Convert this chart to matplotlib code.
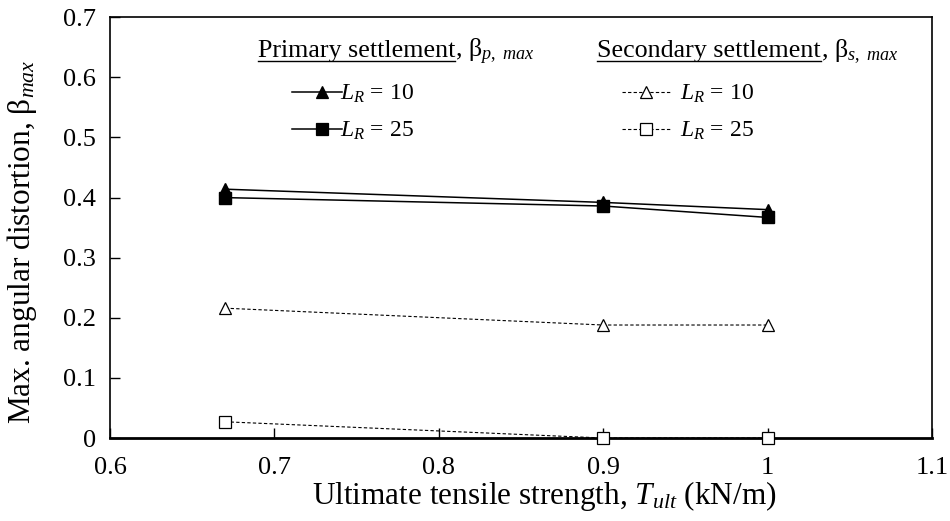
import matplotlib
matplotlib.use("Agg")
import matplotlib.pyplot as plt
from matplotlib.lines import Line2D
from matplotlib.ticker import FuncFormatter, MultipleLocator

plt.rcParams["font.family"] = ["Liberation Serif", "DejaVu Serif"]
plt.rcParams["mathtext.fontset"] = "custom"
plt.rcParams["mathtext.rm"] = "Liberation Serif"
plt.rcParams["mathtext.it"] = "Liberation Serif:italic"

# data
t_ult = [0.67, 0.9, 1.0]
primary_lr10 = [0.414, 0.392, 0.380]
primary_lr25 = [0.400, 0.386, 0.367]
secondary_lr10 = [0.216, 0.188, 0.188]
secondary_lr25 = [0.027, 0.0, 0.0]

fig = plt.figure(figsize=(9.5, 5.21), dpi=100)
ax = fig.add_axes([0.1158, 0.1593, 0.8652, 0.8075])

ax.plot(t_ult, primary_lr10, "-", color="black", lw=1.1, marker="^", ms=9,
        mfc="black", mec="black", clip_on=False)
ax.plot(t_ult, primary_lr25, "-", color="black", lw=1.1, marker="s", ms=8,
        mfc="black", mec="black", clip_on=False)
ax.plot(t_ult, secondary_lr10, color="black", lw=0.8, ls=(0, (3, 2)), marker="^",
        ms=9, mfc="white", mec="black", mew=0.9, clip_on=False)
ax.plot(t_ult, secondary_lr25, color="black", lw=0.8, ls=(0, (3, 2)), marker="s",
        ms=8, mfc="white", mec="black", mew=0.9, clip_on=False, zorder=5)

ax.set_xlim(0.6, 1.1)
ax.set_ylim(0, 0.7)
ax.xaxis.set_major_locator(MultipleLocator(0.1))
ax.yaxis.set_major_locator(MultipleLocator(0.1))
fmt = FuncFormatter(lambda v, p: f"{v:g}")
ax.xaxis.set_major_formatter(fmt)
ax.yaxis.set_major_formatter(fmt)
ax.tick_params(direction="in", length=7, width=1, labelsize=19, top=False, right=False)
ax.tick_params(axis="x", pad=14)
ax.tick_params(axis="y", pad=10)
for s in ax.spines.values():
    s.set_linewidth(1.2)
ax.spines["bottom"].set_linewidth(2)

ax.set_xlabel("Ultimate tensile strength, $T_{ult}$ (kN/m)", fontsize=22.5)
ax.set_ylabel(r"Max. angular distortion, β$_{max}$", fontsize=22.5)
ax.xaxis.set_label_coords(0.528, -0.097)
ax.yaxis.set_label_coords(-0.087, 0.466)

# custom legend
def px(x, y):
    return x / 950, 1 - y / 521

titles = [(258, "Primary settlement", r", β$_{p,\ max}$"),
          (597, "Secondary settlement", r", β$_{s,\ max}$")]
fig.canvas.draw()
r = fig.canvas.get_renderer()
for x0, main, sub in titles:
    t = fig.text(*px(x0, 57), main, fontsize=18.7, va="baseline", ha="left")
    bb = t.get_window_extent(r)
    uy = px(0, 61)[1]
    fig.add_artist(Line2D([bb.x0 / 950, bb.x1 / 950], [uy, uy],
                          color="black", lw=1, transform=fig.transFigure))
    fig.text(bb.x1 / 950, px(0, 57)[1], sub, fontsize=18.7, va="baseline", ha="left")

entries = [
    (292, 342, 322, 92, "-", "^", "black", 1.1, "$L_R$ = 10", 340),
    (292, 342, 322, 129, "-", "s", "black", 1.1, "$L_R$ = 25", 340),
    (622, 672, 646, 92, (0, (3, 2)), "^", "white", 0.8, "$L_R$ = 10", 680),
    (622, 672, 646, 129, (0, (3, 2)), "s", "white", 0.8, "$L_R$ = 25", 680),
]
for xa, xb, xm, y, ls, mk, fc, lw, lab, xl in entries:
    (fa, fy), (fb, _) = px(xa, y), px(xb, y)
    fig.add_artist(Line2D([fa, fb], [fy, fy], color="black", lw=lw, ls=ls,
                          transform=fig.transFigure))
    fig.add_artist(Line2D([xm / 950], [fy], marker=mk, ms=9 if mk == "^" else 8,
                          mfc=fc, mec="black", mew=0.9, ls="none",
                          transform=fig.transFigure))
    fig.text(*px(xl, y + 2), lab, fontsize=17, va="center", ha="left")

fig.savefig("out.png", dpi=100)
